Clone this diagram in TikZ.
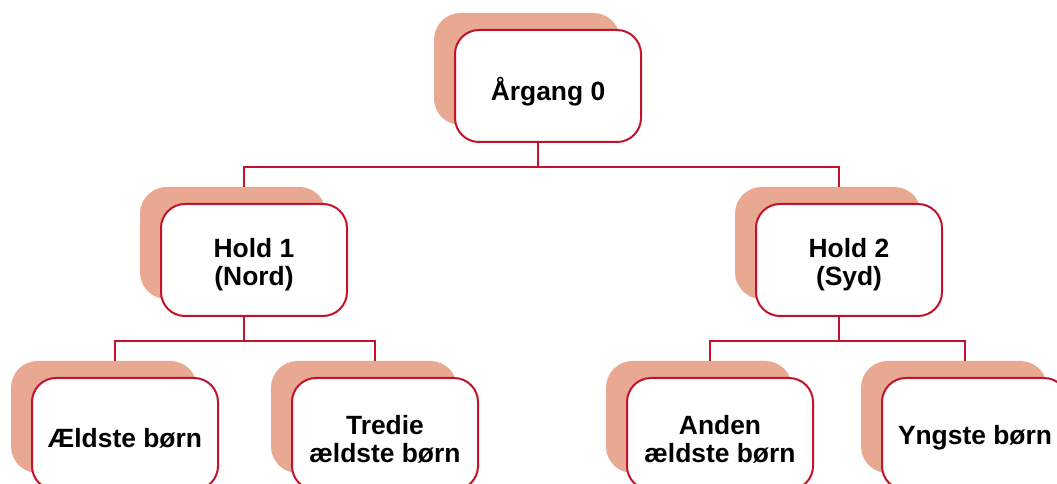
\documentclass[tikz,border=0pt]{standalone}
\usepackage{fontspec}
\setmainfont{Liberation Sans}
\usetikzlibrary{calc}
\definecolor{cred}{HTML}{C3122B}
\definecolor{cshade}{HTML}{E9A891}
\tikzset{
  card/.style={draw=cred, line width=1.5pt, fill=white, rounded corners=18pt,
    minimum width=139.5pt, minimum height=84pt, inner sep=0pt},
  txt/.style={align=center, inner sep=0pt,
    font=\fontsize{19.8}{21}\selectfont\bfseries},
  shade/.style={fill=cshade, rounded corners=20pt, minimum width=139.5pt,
    minimum height=84pt, inner sep=0pt},
  conn/.style={draw=cred, line width=1.5pt}
}
\begin{document}
\begin{tikzpicture}[x=0.75pt,y=-0.75pt]
\useasboundingbox (0,0) rectangle (1057,484);
\clip (0,0) rectangle (1057,484);
% shadows
\node[shade] (s0) at (527,69) {};
\node[shade] (s1) at (233,243) {};
\node[shade] (s2) at (828,243) {};
\node[shade] (s3) at (104,417) {};
\node[shade] (s4) at (364,417) {};
\node[shade] (s5) at (699,417) {};
\node[shade] (s6) at (954,417) {};
% cards
\node[card] (b0) at (548,86) {};
\node[card] (b1) at (254,260) {};
\node[card] (b2) at (849,260) {};
\node[card] (b3) at (125,434) {};
\node[card] (b4) at (385,434) {};
\node[card] (b5) at (720,434) {};
\node[card] (b6) at (975,434) {};
% labels
\node[txt] (l0) at ($(b0)+(0,6)$) {Årgang 0};
\node[txt] (l1) at ($(b1)+(0,5)$) {Hold 1\\(Nord)};
\node[txt] (l2) at ($(b2)+(0,5)$) {Hold 2\\(Syd)};
\node[txt] (l3) at ($(b3)+(0,4)$) {Ældste børn};
\node[txt] (l4) at ($(b4)+(0,5)$) {Tredie\\ældste børn};
\node[txt] (l5) at ($(b5)+(0,5)$) {Anden\\ældste børn};
\node[txt] (l6) at ($(b6)+(0,4)$) {Yngste børn};
% connector anchor points
\foreach \i in {0,1,2}{
  \coordinate (m\i) at ($(b\i.south)+(-10.5,0)$);
  \coordinate (j\i) at ($(m\i)+(0,24)$);
}
\foreach \i in {1,...,6}{
  \coordinate (t\i) at ($(s\i.north)+(10.5,0)$);
}
% connectors
\draw[conn] (m0) -- (j0);
\draw[conn] (t1) |- (j0) -| (t2);
\draw[conn] (m1) -- (j1);
\draw[conn] (t3) |- (j1) -| (t4);
\draw[conn] (m2) -- (j2);
\draw[conn] (t5) |- (j2) -| (t6);
\end{tikzpicture}
\end{document}
